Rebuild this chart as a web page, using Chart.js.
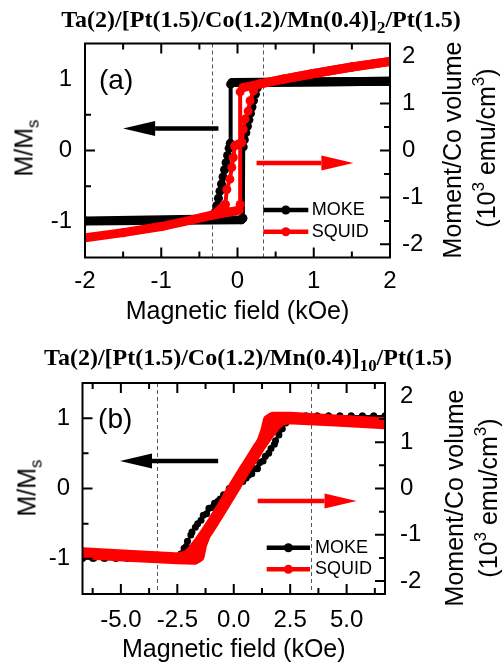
<!DOCTYPE html>
<html>
<head>
<meta charset="utf-8">
<script src="https://cdn.jsdelivr.net/npm/chart.js@4/dist/chart.umd.min.js"></script>
<style>
  html, body { margin: 0; padding: 0; background: #fff; }
  #wrap { position: relative; width: 503px; height: 665px; overflow: hidden;
          font-family: "Liberation Sans", Arial, sans-serif; color: #000; }
  canvas { position: absolute; left: 0; }
  .ttl { position: absolute; font: bold 24px "Liberation Serif", "Times New Roman", serif;
         white-space: nowrap; line-height: 24px; transform: translateX(-50%); }
  .ttl sub { font-size: 0.7em; vertical-align: -6px; line-height: 0; }
  .ax { position: absolute; font-size: 25px; white-space: nowrap; line-height: 25px;
        transform: translate(-50%, -50%) rotate(-90deg); }
  .ax sub { font-size: 0.68em; vertical-align: -0.35em; line-height: 0; }
  .ax sup { font-size: 0.68em; vertical-align: 0.6em; line-height: 0; }
</style>
</head>
<body>
<div id="wrap">
  <canvas id="cA" width="503" height="330" style="top:0"></canvas>
  <canvas id="cB" width="503" height="335" style="top:330px"></canvas>

  <div class="ttl" style="left:261px; top:7px">Ta(2)/[Pt(1.5)/Co(1.2)/Mn(0.4)]<sub>2</sub>/Pt(1.5)</div>
  <div class="ttl" style="left:248px; top:345px">Ta(2)/[Pt(1.5)/Co(1.2)/Mn(0.4)]<sub>10</sub>/Pt(1.5)</div>

  <div class="ax" style="left:24px; top:148px">M/M<sub>s</sub></div>
  <div class="ax" style="left:452px; top:150px">Moment/Co volume</div>
  <div class="ax" style="left:486px; top:148px">(10<sup>3</sup> emu/cm<sup>3</sup>)</div>

  <div class="ax" style="left:27px; top:488px">M/M<sub>s</sub></div>
  <div class="ax" style="left:454px; top:498px">Moment/Co volume</div>
  <div class="ax" style="left:488px; top:498px">(10<sup>3</sup> emu/cm<sup>3</sup>)</div>
</div>

<script>
// ---- (a) [Pt/Co/Mn]x2 : field in kOe ----
// MOKE loop (normalised Kerr signal), sweep down then back up
const mokeA_H = [2.0, 0.30, 0.26, 0.235, 0.21, 0.19, 0.17, 0.15, 0.13, 0.11, 0.09, 0.075, 0.07, 0.05, -2.0,
                 -2.0, -0.32, -0.29, -0.27, -0.25, -0.23, -0.21, -0.19, -0.17, -0.15, -0.13, -0.11, -0.095, -0.09, -0.07, 2.0];
const mokeA_M = [0.97, 0.955, 0.88, 0.79, 0.70, 0.61, 0.52, 0.43, 0.34, 0.25, 0.15, 0.05, -0.95, -0.97, -0.99,
                 -0.99, -0.96, -0.86, -0.77, -0.67, -0.57, -0.47, -0.37, -0.27, -0.17, -0.07, 0.03, 0.10, 0.93, 0.955, 0.97];
// SQUID loop (10^3 emu/cm^3)
const squidA_H = [2.0, 1.5, 1.0, 0.6, 0.3, 0.21, 0.165, 0.14, 0.10, 0.075, 0.055, -0.035, -0.055, -0.075, -0.10, -0.14, -0.16, -0.3, -0.6, -1.0, -1.5, -2.0,
                  -2.0, -1.5, -1.0, -0.6, -0.3, -0.1, 0.02, 0.035, 0.035, 0.07, 0.3, 0.6, 1.0, 1.5, 2.0];
const squidA_M = [1.90, 1.78, 1.64, 1.52, 1.42, 1.27, 1.06, 0.84, 0.67, 0.45, 0.17, 0.10, -0.15, -0.36, -0.61, -0.83, -1.15, -1.36, -1.48, -1.62, -1.75, -1.86,
                  -1.86, -1.75, -1.62, -1.48, -1.37, -1.31, -1.27, -1.15, 1.25, 1.34, 1.42, 1.52, 1.64, 1.78, 1.90];

// ---- (b) [Pt/Co/Mn]x10 ----
const mokeB_H = [6.7, 6.2, 5.7, 5.2, 4.7, 4.2, 3.7, 3.2, 2.7, 2.45, 2.25, 2.05, 1.85, 1.65, 1.4, 1.15, 0.9, 0.65, 0.4, 0.15,
                 -0.1, -0.35, -0.6, -0.85, -1.1, -1.35, -1.6, -1.85, -2.05, -2.2, -2.35, -2.55, -2.75, -3.25, -3.75, -4.25, -4.75, -5.25, -5.75, -6.25, -6.7,
                 -6.7, -6.2, -5.7, -5.2, -4.7, -4.2, -3.7, -3.2, -2.7, -2.5, -2.3, -2.1, -1.9, -1.7, -1.45, -1.2, -0.95, -0.7, -0.45, -0.2,
                 0.05, 0.3, 0.55, 0.8, 1.05, 1.3, 1.55, 1.8, 2.0, 2.15, 2.3, 2.5, 2.7, 3.2, 3.7, 4.2, 4.7, 5.2, 5.7, 6.2, 6.7];
const mokeB_M = [1.03, 1.03, 1.03, 1.03, 1.03, 1.03, 1.03, 1.03, 1.03, 1.01, 0.95, 0.84, 0.68, 0.57, 0.46, 0.37, 0.28, 0.19, 0.10, 0.02,
                 -0.05, -0.10, -0.15, -0.21, -0.28, -0.38, -0.50, -0.62, -0.75, -0.85, -0.93, -0.98, -0.99, -0.99, -0.99, -0.99, -0.99, -0.99, -0.99, -0.99, -0.99,
                 -0.99, -0.99, -0.99, -0.99, -0.99, -0.99, -0.99, -0.99, -0.99, -0.98, -0.93, -0.82, -0.66, -0.55, -0.45, -0.36, -0.27, -0.18, -0.09, 0.0,
                 0.06, 0.10, 0.15, 0.21, 0.28, 0.39, 0.50, 0.63, 0.76, 0.85, 0.93, 1.00, 1.02, 1.03, 1.03, 1.03, 1.03, 1.03, 1.03, 1.03, 1.03];
const squidB_H = [6.7, 4.5, 2.5, 1.75, 1.55, 1.45, 1.28, 0.95, 0.5, 0.1, -0.3, -0.7, -1.1, -1.5, -1.8, -2.05, -2.4, -4.5, -6.7,
                  -6.7, -4.5, -2.5, -1.75, -1.55, -1.45, -1.28, -0.95, -0.5, -0.1, 0.3, 0.7, 1.1, 1.5, 1.8, 2.05, 2.4, 4.5, 6.7];
const squidB_M = [1.41, 1.47, 1.53, 1.53, 1.47, 1.25, 1.02, 0.75, 0.42, 0.08, -0.24, -0.56, -0.87, -1.15, -1.34, -1.46, -1.51, -1.46, -1.40,
                  -1.40, -1.46, -1.51, -1.52, -1.46, -1.22, -1.00, -0.75, -0.40, -0.06, 0.26, 0.57, 0.88, 1.16, 1.35, 1.47, 1.52, 1.47, 1.41];

// tick labels
const fieldTicksA = [-2, -1, 0, 1, 2];
const fieldTicksB = [-5, -2.5, 0, 2.5, 5];
const normTicks = [-1, 0, 1];
const momentTicks = [-2, -1, 0, 1, 2];

const FONT = '"Liberation Sans", Arial, sans-serif';
const BLACK = '#000000', RED = '#ff0000';

const pts = (H, M) => H.map((h, i) => ({ x: h, y: M[i] }));
// plateau-like (mostly horizontal) segments are drawn heavy, switching segments light
const flatHeavy = (heavy, light) => c =>
  Math.abs(c.p1.x - c.p0.x) >= Math.abs(c.p1.y - c.p0.y) ? heavy : light;

// frame, inward ticks, guide lines, field arrows, panel tag and legend
const framePlugin = {
  id: 'frame',
  beforeDatasetsDraw(chart, _a, o) {
    const { ctx, chartArea: a } = chart;
    const x = chart.scales.x;
    ctx.save();
    ctx.strokeStyle = '#555';
    ctx.lineWidth = 1;
    ctx.setLineDash([4, 3]);
    o.guides.forEach(v => {
      const px = Math.round(x.getPixelForValue(v)) + 0.5;
      ctx.beginPath(); ctx.moveTo(px, a.top); ctx.lineTo(px, a.bottom); ctx.stroke();
    });
    ctx.restore();
  },
  afterDatasetsDraw(chart, _a, o) {
    const { ctx, chartArea: a } = chart;
    const x = chart.scales.x, y = chart.scales.y;
    ctx.save();
    o.arrows.forEach(ar => {
      const py = y.getPixelForValue(ar.y);
      const x0 = x.getPixelForValue(ar.from), x1 = x.getPixelForValue(ar.to);
      const base = x1 - Math.sign(x1 - x0) * 32;
      ctx.strokeStyle = ar.color; ctx.fillStyle = ar.color;
      ctx.lineWidth = 4.5;
      ctx.beginPath(); ctx.moveTo(x0, py); ctx.lineTo(base, py); ctx.stroke();
      ctx.beginPath(); ctx.moveTo(x1, py); ctx.lineTo(base, py - 7.5); ctx.lineTo(base, py + 7.5);
      ctx.closePath(); ctx.fill();
    });
    ctx.fillStyle = '#000';
    ctx.font = '28px ' + FONT;
    ctx.textAlign = 'left';
    ctx.textBaseline = 'middle';
    ctx.fillText(o.tag, a.left + o.tagDx, a.top + o.tagDy);
    ctx.font = '18px ' + FONT;
    const L = o.legend;
    chart.data.datasets.forEach((ds, i) => {
      const ly = a.bottom - L.rows[i];
      const lx0 = a.right - L.x0, lx1 = a.right - L.x1;
      ctx.strokeStyle = ds.borderColor; ctx.fillStyle = ds.borderColor;
      ctx.lineWidth = 4.5;
      ctx.beginPath(); ctx.moveTo(lx0, ly); ctx.lineTo(lx1, ly); ctx.stroke();
      ctx.beginPath(); ctx.arc((lx0 + lx1) / 2, ly, 4.5, 0, Math.PI * 2); ctx.fill();
      ctx.fillStyle = '#000';
      ctx.fillText(ds.label, a.right - L.tx, ly);
    });
    ctx.restore();
  },
  afterDraw(chart, _a, o) {
    const { ctx, chartArea: a, scales } = chart;
    ctx.save();
    ctx.strokeStyle = '#000';
    ctx.lineWidth = 2;
    ctx.strokeRect(a.left, a.top, a.right - a.left, a.bottom - a.top);
    const marks = (s, step, major) => {
      const out = [];
      for (let k = Math.ceil(s.min / step - 1e-9); k * step <= s.max + 1e-9; k++) {
        const v = k * step;
        const m = Math.abs(v / major - Math.round(v / major)) < 1e-6;
        out.push({ p: s.getPixelForValue(v), len: m ? 10 : 6 });
      }
      return out.filter(t => t.p > a.left + 1 && t.p < a.right - 1 || !scales.x.isHorizontal());
    };
    ctx.beginPath();
    marks(scales.x, o.xStep, o.xMajor).forEach(t => {
      if (t.p <= a.left + 1 || t.p >= a.right - 1) return;
      ctx.moveTo(t.p, a.bottom); ctx.lineTo(t.p, a.bottom - t.len);
      ctx.moveTo(t.p, a.top); ctx.lineTo(t.p, a.top + t.len);
    });
    marks(scales.y, 0.5, 1).forEach(t => {
      if (t.p <= a.top + 1 || t.p >= a.bottom - 1) return;
      ctx.moveTo(a.left, t.p); ctx.lineTo(a.left + t.len, t.p);
    });
    marks(scales.y2, 0.5, 1).forEach(t => {
      if (t.p <= a.top + 1 || t.p >= a.bottom - 1) return;
      ctx.moveTo(a.right, t.p); ctx.lineTo(a.right - t.len, t.p);
    });
    ctx.stroke();
    ctx.restore();
  }
};

function tickFont() { return { size: 24, family: FONT }; }

function buildChart(id, cfg) {
  return new Chart(document.getElementById(id), {
    type: 'scatter',
    data: { datasets: cfg.datasets },
    options: {
      responsive: false,
      animation: false,
      events: [],
      layout: { padding: { top: cfg.top, left: 0, right: 0, bottom: 0 } },
      plugins: { legend: { display: false }, tooltip: { enabled: false }, frame: cfg.frame },
      scales: {
        x: {
          type: 'linear', position: 'bottom', min: cfg.xMin, max: cfg.xMax,
          afterFit: s => { s.height = cfg.xHeight; },
          afterBuildTicks: s => { s.ticks = cfg.xTicks.map(v => ({ value: v })); },
          grid: { display: false, drawTicks: false }, border: { display: false },
          ticks: { font: tickFont(), color: '#000', padding: cfg.xPad, maxRotation: 0, autoSkip: false,
                   callback: cfg.xFmt },
          title: { display: true, text: 'Magnetic field (kOe)', color: '#000',
                   font: { size: 25, family: FONT }, padding: { top: 0, bottom: cfg.xTitlePad } }
        },
        y: {
          type: 'linear', position: 'left', min: -1.5, max: 1.5,
          afterFit: s => { s.width = cfg.left; },
          afterBuildTicks: s => { s.ticks = normTicks.map(v => ({ value: v })); },
          grid: { display: false, drawTicks: false }, border: { display: false },
          ticks: { font: tickFont(), color: '#000', padding: cfg.yPad, callback: v => String(v) }
        },
        y2: {
          type: 'linear', position: 'right', min: -2.28, max: 2.28,
          afterFit: s => { s.width = cfg.right; },
          afterBuildTicks: s => { s.ticks = momentTicks.map(v => ({ value: v })); },
          grid: { display: false, drawTicks: false }, border: { display: false },
          ticks: { font: tickFont(), color: '#000', padding: cfg.y2Pad, callback: v => String(v) }
        }
      }
    },
    plugins: [framePlugin]
  });
}

buildChart('cA', {
  top: 43.5, xHeight: 72.5, left: 85, right: 113, xPad: 9.4, xTitlePad: 2.5, yPad: 13, y2Pad: 12,
  xMin: -2, xMax: 2, xTicks: fieldTicksA, xFmt: v => String(v),
  datasets: [
    { label: 'MOKE', data: pts(mokeA_H, mokeA_M), yAxisID: 'y', showLine: true,
      borderColor: BLACK, backgroundColor: BLACK, pointRadius: 4.5, pointBorderWidth: 0,
      borderWidth: 9, segment: { borderWidth: flatHeavy(9, 4) },
      borderCapStyle: 'round', borderJoinStyle: 'round', clip: 0, order: 2 },
    { label: 'SQUID', data: pts(squidA_H, squidA_M), yAxisID: 'y2', showLine: true,
      borderColor: RED, backgroundColor: RED, pointRadius: 4.5, pointBorderWidth: 0,
      borderWidth: 9, segment: { borderWidth: flatHeavy(9, 4) },
      borderCapStyle: 'round', borderJoinStyle: 'round', clip: 0, order: 1 }
  ],
  frame: {
    guides: [-0.335, 0.335], xStep: 0.5, xMajor: 1,
    arrows: [ { y: 0.31, from: -0.25, to: -1.5, color: BLACK },
              { y: -0.175, from: 0.25, to: 1.52, color: RED } ],
    tag: '(a)', tagDx: 14, tagDy: 37.5,
    legend: { x0: 126.7, x1: 81.7, tx: 78.3, rows: [47.5, 25.8] }
  }
});

buildChart('cB', {
  top: 53, xHeight: 71, left: 82.5, right: 118, xPad: 11.6, xTitlePad: 0, yPad: 12.5, y2Pad: 15,
  xMin: -6.7, xMax: 6.7, xTicks: fieldTicksB, xFmt: v => Number(v).toFixed(1),
  datasets: [
    { label: 'MOKE', data: pts(mokeB_H, mokeB_M), yAxisID: 'y', showLine: true,
      borderColor: BLACK, backgroundColor: BLACK, pointRadius: 3.5, pointBorderWidth: 0,
      borderWidth: 2, borderJoinStyle: 'round', clip: 0, order: 2 },
    { label: 'SQUID', data: pts(squidB_H, squidB_M), yAxisID: 'y2', showLine: true,
      borderColor: RED, backgroundColor: RED, pointRadius: 0,
      borderWidth: 12, borderCapStyle: 'round', borderJoinStyle: 'round', clip: 0, order: 1 }
  ],
  frame: {
    guides: [-3.42, 3.42], xStep: 1.25, xMajor: 2.5,
    arrows: [ { y: 0.39, from: -0.69, to: -5.04, color: BLACK },
              { y: -0.176, from: 1.06, to: 5.44, color: RED } ],
    tag: '(b)', tagDx: 15.6, tagDy: 37,
    legend: { x0: 118.3, x1: 75, tx: 70, rows: [46.3, 24.7] }
  }
});
</script>
</body>
</html>
